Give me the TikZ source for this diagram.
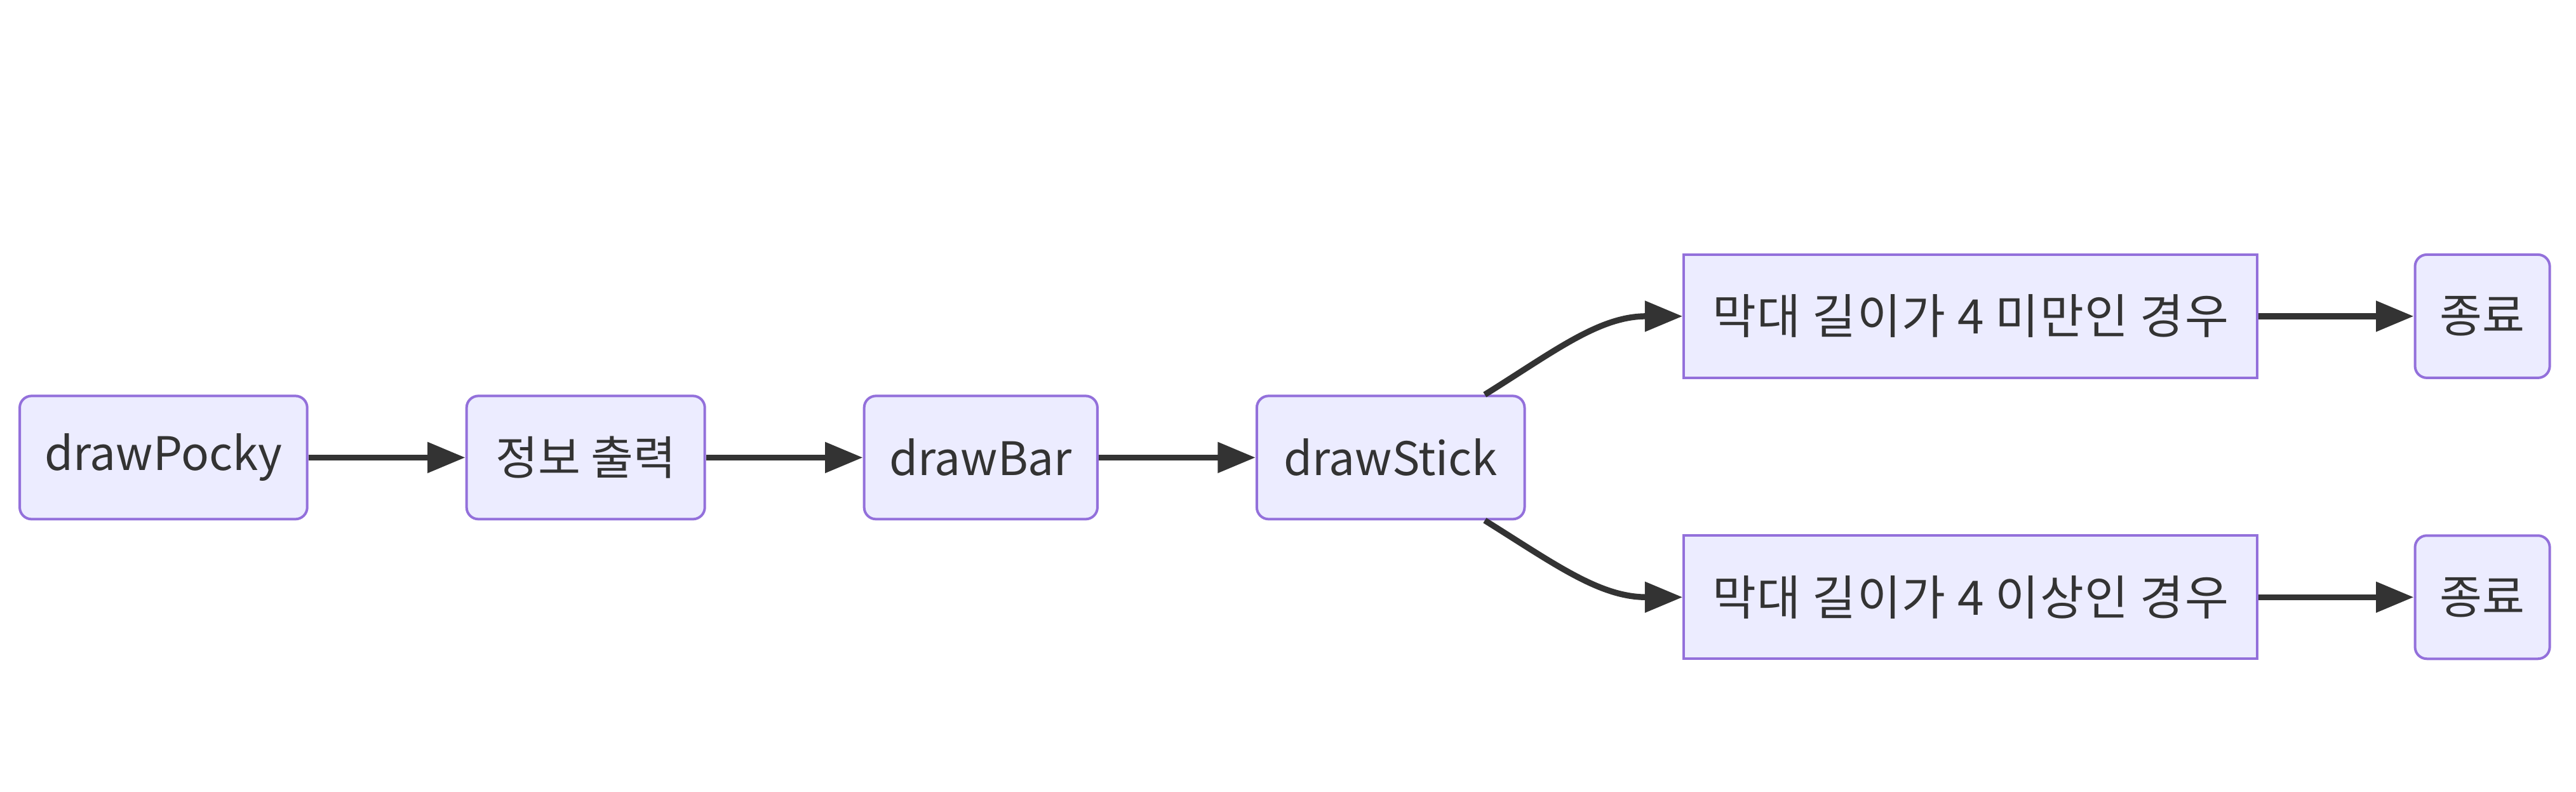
\documentclass[tikz,border=0pt]{standalone}
\usepackage{fontspec}
\setmainfont{Noto Sans CJK KR}
\usetikzlibrary{arrows.meta}
\definecolor{boxfill}{HTML}{ECECFF}
\definecolor{boxline}{HTML}{9370DB}
\definecolor{edgeline}{HTML}{333333}
\begin{document}
\begin{tikzpicture}

    \tikzset{
      rbox/.style={
        draw=boxline,
        fill=boxfill,
        line width=1.1pt,
        rounded corners=0.18cm,
        minimum height=1.875cm,
        inner sep=0pt,
        text=edgeline,
        font=\fontsize{20}{24}\selectfont,
      },
      sbox/.style={
        rbox,
        rounded corners=0pt,
        font=\fontsize{20.6}{24}\selectfont\addfontfeatures{LetterSpace=2},
      },
      flow/.style={
        color=edgeline,
        line width=2.6pt,
        >={Triangle[length=0.575cm,width=0.45cm]},
        ->,
      },
    }

	\useasboundingbox (0,0) rectangle (39.2,12.05);

	\draw (2.4875,5.0875) node[rbox,minimum width=4.375cm] (pocky) {drawPocky};
	\draw (8.9125,5.0875) node[rbox,minimum width=3.625cm] (info) {정보 출력};
	\draw (14.925,5.0875) node[rbox,minimum width=3.55cm] (bar) {drawBar};
	\draw (21.1625,5.0875) node[rbox,minimum width=4.075cm] (stick) {drawStick};
	\draw (29.9875,7.2375) node[sbox,minimum width=8.725cm] (short) {막대 길이가 4 미만인 경우};
	\draw (29.9875,2.9625) node[sbox,minimum width=8.725cm] (long) {막대 길이가 4 이상인 경우};
	\draw (37.775,7.2375) node[rbox,minimum width=2.05cm] (endA) {종료};
	\draw (37.775,2.9625) node[rbox,minimum width=2.05cm] (endB) {종료};

	\coordinate (stickTop) at ([xshift=-0.625cm]stick.north east);
	\coordinate (stickBot) at ([xshift=-0.625cm]stick.south east);

	\draw[flow] (pocky.east)--(info.west);
	\draw[flow] (info.east)--(bar.west);
	\draw[flow] (bar.east)--(stick.west);
	\draw[flow] (stickTop) to[out=32,in=180] (short.west);
	\draw[flow] (stickBot) to[out=-32,in=180] (long.west);
	\draw[flow] (short.east)--(endA.west);
	\draw[flow] (long.east)--(endB.west);

\end{tikzpicture}
\end{document}
